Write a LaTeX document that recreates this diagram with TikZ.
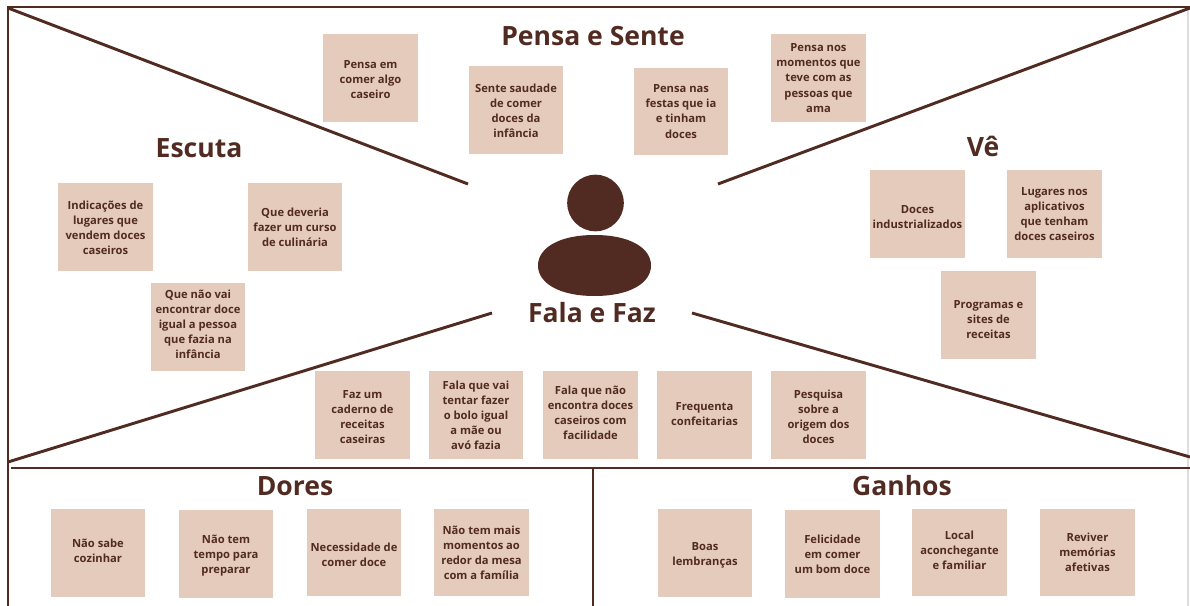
\documentclass[tikz,border=0pt]{standalone}
\usepackage{fontspec}
\setmainfont{Open Sans}
\usepackage{xcolor}
\usepackage{tikz}
\definecolor{darkbrown}{HTML}{512A22}
\definecolor{notefill}{HTML}{E5CBBC}
\definecolor{edgegrey}{HTML}{DEDEDE}
\newcommand{\padtop}[1]{\rule{0pt}{#1}}
\tikzset{
	note/.style={fill=notefill, text=darkbrown, minimum width=71pt, minimum height=65.5pt, inner sep=0pt, align=center, font=\fontsize{8.4}{11.3}\selectfont\bfseries},
	lift/.style={execute at end node={\rule[-#1]{0pt}{#1}}},
	heading/.style={text=darkbrown, inner sep=0pt, font=\fontsize{19.9}{23}\selectfont\bfseries},
	frameline/.style={draw=darkbrown, line width=2.2pt}
}
\begin{document}
\begin{tikzpicture}[x=0.75pt, y=-0.75pt]
	\useasboundingbox (0,0) rectangle (1190,606);
	%% frame
	\draw [edgegrey, line width=0.8pt] (1188,8) -- (1188,606);
	\draw [frameline] (8,606) -- (8,7) -- (1190,7);
	\draw [frameline] (11,468) -- (1190,468);
	\draw [frameline] (593,468) -- (593,606);
	%% diagonals
	\draw [frameline] (8,8) -- (468,184);
	\draw [frameline] (1190,8) -- (718,184);
	\draw [frameline] (8,462) -- (492,313);
	\draw [frameline] (1190,457) -- (692,313);
	%% person
	\fill [darkbrown] (595.5,203) circle (28.3);
	\fill [darkbrown] (538,265.5) .. controls (538,248) and (559,235) .. (594.5,235)
		.. controls (630,235) and (651,248) .. (651,265.5)
		.. controls (651,283) and (630,296) .. (594.5,296)
		.. controls (559,296) and (538,283) .. (538,265.5);
	%% titles
	\node [heading] (pensa) at (593,36) {Pensa e Sente};
	\node [heading] (escuta) at (199,148) {Escuta};
	\node [heading] (ve) at (983,146) {Vê};
	\node [heading] (fala) at (592,313) {Fala e Faz};
	\node [heading] (dores) at (295,486) {Dores};
	\node [heading] (ganhos) at (902,486) {Ganhos};
	%% pensa e sente
	\node [note] (comer) at (370.5,78) {\padtop{7.8pt}Pensa em\\comer algo\\caseiro};
	\node [note] (saudade) at (516,110) {\padtop{7.8pt}Sente saudade\\de comer\\doces da\\infância};
	\node [note] (festas) at (681,111.5) {Pensa nas\\festas que ia\\e tinham\\doces};
	\node [note] (momentos) at (818.5,78) {Pensa nos\\momentos que\\teve com as\\pessoas que\\ama};
	%% escuta
	\node [note] (indicacoes) at (105.5,227) {\padtop{7.8pt}Indicações de\\lugares que\\vendem doces\\caseiros};
	\node [note] (curso) at (295,227) {Que deveria\\fazer um curso\\de culinária};
	\node [note, lift=4pt] (igual) at (198,327) {Que não vai\\encontrar doce\\igual a pessoa\\que fazia na\\infância};
	%% ve
	\node [note] (industrial) at (917.5,214) {\padtop{10.8pt}Doces\\industrializados};
	\node [note] (lugares) at (1054.5,214) {Lugares nos\\aplicativos\\que tenham\\doces caseiros};
	\node [note] (programas) at (988.5,315) {\padtop{12.3pt}Programas e\\sites de\\receitas};
	%% fala e faz
	\node [note] (caderno) at (362.5,415) {\padtop{9.3pt}Faz um\\caderno de\\receitas\\caseiras};
	\node [note] (bolo) at (476,415) {Fala que vai\\tentar fazer\\o bolo igual\\a mãe ou\\avó fazia};
	\node [note, lift=3pt] (encontra) at (590.5,415) {Fala que não\\encontra doces\\caseiros com\\facilidade};
	\node [note, lift=2pt] (frequenta) at (704.5,415) {Frequenta\\confeitarias};
	\node [note] (pesquisa) at (818.5,415) {\padtop{9.3pt}Pesquisa\\sobre a\\origem dos\\doces};
	%% dores
	\node [note, lift=4pt] (cozinhar) at (98,553) {Não sabe\\cozinhar};
	\node [note] (tempo) at (226,554) {\padtop{9.3pt}Não tem\\tempo para\\preparar};
	\node [note] (necessidade) at (354,552.5) {\padtop{9.3pt}Necessidade de\\comer doce};
	\node [note] (mesa) at (481.5,552.5) {Não tem mais\\momentos ao\\redor da mesa\\com a família};
	%% ganhos
	\node [note] (boas) at (705,553) {\padtop{9.3pt}Boas\\lembranças};
	\node [note] (felicidade) at (832.5,554) {Felicidade\\em comer\\um bom doce};
	\node [note, lift=4pt] (local) at (959.5,552.5) {Local\\aconchegante\\e familiar};
	\node [note] (reviver) at (1087.5,552.5) {Reviver\\memórias\\afetivas};
\end{tikzpicture}
\end{document}
